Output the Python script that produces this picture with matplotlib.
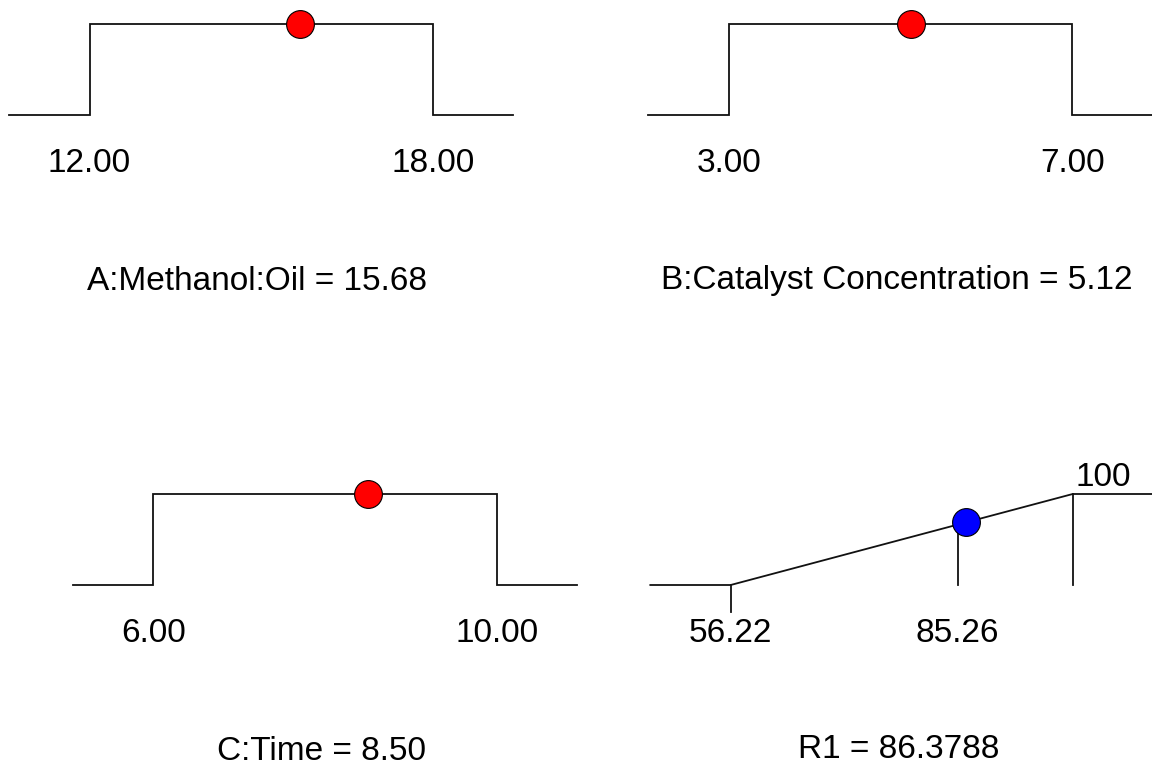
import matplotlib.pyplot as plt

plt.rcParams['font.family'] = ['Liberation Sans', 'DejaVu Sans']

# factor ranges and optimum settings
factor_names = ['A:Methanol:Oil', 'B:Catalyst Concentration', 'C:Time']
factor_low = [12.0, 3.0, 6.0]
factor_high = [18.0, 7.0, 10.0]
factor_opt = [15.68, 5.12, 8.50]

# response ramp
resp_name = 'R1'
resp_low = 56.22
resp_high = 100
resp_mark = 85.26
resp_pred = 86.3788

W, H, DPI = 1152, 765, 100
FS = 24
fig = plt.figure(figsize=(W / DPI, H / DPI), dpi=DPI)

# pixel boxes: (x of low, x of high, y of baseline, y of top)
boxes = [(89.5, 432.7, 115, 24), (728.7, 1072.3, 115, 24),
         (153.3, 496.7, 585, 494), (730.7, 1072.7, 585, 494)]


def make_axes(box, lo, hi):
    px_lo, px_hi, py_base, py_top = box
    ux = (hi - lo) / (px_hi - px_lo)
    uy = 1.0 / (py_base - py_top)
    left, right = px_lo - 90, px_hi + 90
    top, bot = py_top - 40, py_base + 180
    ax = fig.add_axes([left / W, 1 - bot / H, (right - left) / W, (bot - top) / H])
    ax.set_xlim(lo - 90 * ux, hi + 90 * ux)
    ax.set_ylim(-180 * uy, 1 + 40 * uy)
    ax.axis('off')
    return ax, ux, uy


line_kw = dict(color='#111111', lw=1.3, solid_joinstyle='miter')

for i in range(3):
    lo, hi, opt = factor_low[i], factor_high[i], factor_opt[i]
    ax, ux, uy = make_axes(boxes[i], lo, hi)
    ext = 0.235 * (hi - lo)
    ax.plot([lo - ext, lo, lo, hi, hi, hi + ext], [0, 0, 1, 1, 0, 0], **line_kw)
    ax.plot(opt, 1, 'o', ms=20, mfc='red', mec='black', mew=0.8, zorder=3, clip_on=False)
    ax.text(lo, -49 * uy, '%.2f' % lo, ha='center', va='center', fontsize=FS)
    ax.text(hi, -49 * uy, '%.2f' % hi, ha='center', va='center', fontsize=FS)
    ax.text((lo + hi) / 2 - 4 * ux, -166 * uy, '%s = %.2f' % (factor_names[i], opt),
            ha='center', va='center', fontsize=FS)

# response desirability ramp
lo, hi = resp_low, resp_high
ax, ux, uy = make_axes(boxes[3], lo, hi)
ext = 0.235 * (hi - lo)


def desir(v):
    return (v - lo) / (hi - lo)


ax.plot([lo - ext, lo, hi, hi + ext], [0, 0, 1, 1], **line_kw)
ax.plot([lo, lo], [0, -27 * uy], **line_kw)
ax.plot([resp_mark, resp_mark], [0, desir(resp_mark)], **line_kw)
ax.plot([hi, hi], [0, 1], **line_kw)
ax.plot(resp_pred, desir(resp_pred), 'o', ms=20, mfc='blue', mec='black', mew=0.8, zorder=3)
ax.text(lo, -49 * uy, '%.2f' % lo, ha='center', va='center', fontsize=FS)
ax.text(resp_mark, -49 * uy, '%.2f' % resp_mark, ha='center', va='center', fontsize=FS)
ax.text(hi + 3 * ux, 1 + 17 * uy, '%g' % hi, ha='left', va='center', fontsize=FS)
ax.text((lo + hi) / 2 - 3 * ux, -165 * uy, '%s = %.4f' % (resp_name, resp_pred),
        ha='center', va='center', fontsize=FS)

fig.savefig('out.png', dpi=DPI, facecolor='white')
